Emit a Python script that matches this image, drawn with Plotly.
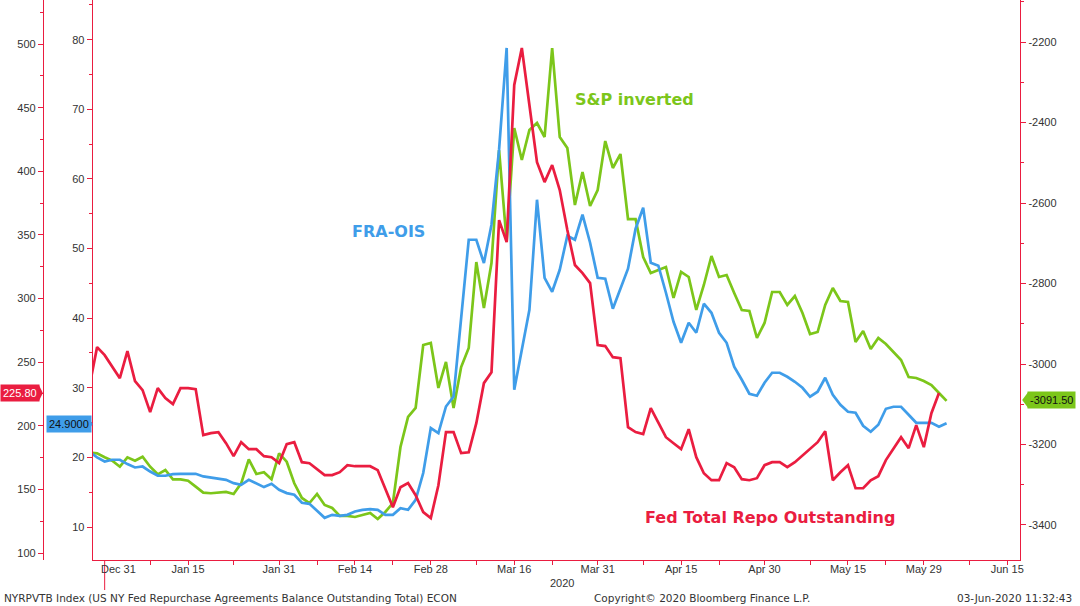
import pandas as pd
import plotly.graph_objects as go

# business days, Dec 27 2019 -> Jun 3 2020
dates = pd.bdate_range("2019-12-27", "2020-06-03")

# Fed Total Repo Outstanding (outer left axis)
repo = [231.1, 261.8, 255.5,
        246.9, 237.4, 258.6, 235.1, 228.0, 210.7, 229.6, 221.7, 217.0, 229.6, 229.6, 228.8,
        192.6, 194.2, 195.0, 186.3, 176.1, 187.1, 181.6, 181.6, 176.1, 175.3, 170.6,
        185.5, 187.1, 171.4, 170.6, 165.9, 161.2, 161.2, 163.5, 169.0, 168.2,
        168.2, 168.2, 165.1, 150.9, 136.0, 151.7, 154.9, 145.4, 132.1, 127.4,
        153.3, 195.0, 195.0, 178.5, 179.2, 202.0, 233.5, 242.1, 361.6, 344.3, 467.8,
        496.9, 450.5, 407.2, 391.5, 404.9, 385.2, 353.8, 326.3, 320.0, 312.1, 263.4,
        262.6, 253.9, 253.1, 198.9, 195.0, 193.4, 213.8, 202.0, 191.0, 186.3, 181.6,
        197.3, 175.3, 162.7, 157.2, 157.2, 170.6, 167.4, 158.0, 157.2, 158.8, 169.0,
        171.4, 171.4, 167.4, 171.4, 176.9, 182.4, 187.1, 195.7, 157.2, 163.5, 169.0,
        150.9, 150.9, 157.2, 160.4, 173.0, 182.4, 191.0, 182.4, 200.5, 183.2,
        209.9, 225.8, None]

# FRA-OIS (inner left axis)
fra_ois = [20.80, 19.99, 19.41,
           19.66, 19.66, 19.04, 18.55, 18.69, 17.97, 17.36, 17.36, 17.60, 17.64, 17.64, 17.64,
           17.26, 17.11, 16.93, 16.78, 16.30, 16.06, 16.78, 16.30, 15.73, 16.21, 15.35,
           14.87, 14.63, 13.48, 13.33, 12.33, 11.32, 11.75, 11.61, 11.75, 12.23,
           12.47, 12.57, 12.47, 11.75, 11.75, 12.71, 12.47, 13.91, 17.75, 24.21,
           23.49, 27.31, 28.75, 39.77, 51.26, 51.26, 47.92, 53.42, 64.20, 78.81, 29.71,
           35.46, 41.21, 57.01, 45.80, 43.79, 46.95, 51.84, 51.26, 54.86, 50.83, 45.80,
           45.66, 41.35, 44.08, 47.10, 52.85, 55.86, 47.96, 47.53, 43.65, 39.48, 36.46,
           39.34, 37.90, 42.07, 40.77, 37.90, 36.46, 33.02, 31.15, 29.14, 28.85, 30.72,
           32.16, 32.16, 31.58, 30.86, 30.00, 28.71, 29.43, 31.44, 29.00, 27.56, 26.55,
           26.41, 24.54, 23.68, 24.69, 26.98, 27.27, 27.27, 26.12, 24.97, 24.97,
           24.97, 24.40, 24.90]

# S&P 500 inverted (right axis)
spx_inv = [-3220.4, -3221.9, -3231.8,
           -3240.3, -3255.2, -3231.8, -3240.3, -3230.3, -3255.2, -3274.1, -3263.4, -3286.5,
           -3286.5, -3289.9, -3304.8, -3319.7, -3321.2, -3319.7, -3318.0, -3323.0, -3296.4,
           -3236.8, -3273.3, -3269.1, -3286.5, -3221.9,
           -3242.8, -3296.4, -3332.9, -3345.4, -3323.0, -3350.3, -3357.8, -3377.6, -3377.6,
           -3380.1, -3375.2, -3370.2, -3385.1, -3367.7, -3345.4, -3206.2, -3131.7, -3109.3,
           -2952.8, -2947.8,
           -3059.6, -2995.0, -3109.3, -3007.5, -2960.2, -2746.6, -2860.9, -2749.1, -2468.3,
           -2696.9, -2413.7, -2493.2, -2418.6, -2401.2, -2436.0, -2214.9, -2436.0, -2463.4,
           -2605.0, -2523.0, -2607.5, -2567.7,
           -2446.0, -2513.0, -2478.3, -2639.8, -2639.8, -2734.2, -2773.9, -2766.5, -2759.0,
           -2836.0, -2771.4, -2783.8, -2865.8, -2803.7, -2731.7, -2783.8, -2778.9, -2823.6,
           -2865.8, -2868.3, -2935.4, -2898.1,
           -2821.1, -2821.1, -2853.4, -2831.1, -2873.3, -2925.5, -2920.5, -2853.4, -2811.2,
           -2843.5, -2846.0, -2945.4, -2918.0, -2962.8, -2935.4, -2950.3, -2970.2, -2990.1,
           -3032.3, -3034.8, -3042.3,
           -3052.2, -3072.0, -3091.5]

# x axis ticks
tick_dates = ["2020-01-15", "2020-01-31", "2020-02-14", "2020-02-28", "2020-03-16", "2020-03-31",
              "2020-04-15", "2020-04-30", "2020-05-15", "2020-05-29", "2020-06-15"]
tick_labels = ["Jan 15", "Jan 31", "Feb 14", "Feb 28", "Mar 16", "Mar 31",
               "Apr 15", "Apr 30", "May 15", "May 29", "Jun 15"]
minor_dates = ["2020-01-08", "2020-01-23", "2020-02-07", "2020-02-21", "2020-03-09", "2020-03-23",
               "2020-04-08", "2020-04-22", "2020-05-08", "2020-05-22", "2020-06-08"]

spx_ticks = [-3400, -3200, -3000, -2800, -2600, -2400, -2200]

RED = "#ea1d40"
BLUE = "#3f9de9"
GREEN = "#7cc61a"
TXT = "#333333"
W, H = 1080, 606

tickfont = dict(family="Liberation Sans", size=11, color=TXT)

fig = go.Figure()
fig.add_trace(go.Scatter(x=dates, y=spx_inv, mode="lines", line=dict(color=GREEN, width=2.7),
                         yaxis="y", name="S&P inverted"))
fig.add_trace(go.Scatter(x=dates, y=fra_ois, mode="lines", line=dict(color=BLUE, width=2.7),
                         yaxis="y2", name="FRA-OIS"))
fig.add_trace(go.Scatter(x=dates, y=repo, mode="lines", line=dict(color=RED, width=2.7),
                         yaxis="y3", name="Fed Total Repo Outstanding"))

fig.update_layout(
    width=W, height=H,
    margin=dict(l=0, r=0, t=0, b=0),
    paper_bgcolor="white", plot_bgcolor="white",
    showlegend=False,
    xaxis=dict(domain=[93 / W, 1024 / W], anchor="y",
               range=["2019-12-27 10:00", "2020-06-16 17:00"],
               rangebreaks=[dict(bounds=["sat", "mon"])],
               tickmode="array", tickvals=tick_dates + minor_dates,
               ticktext=tick_labels + [""] * len(minor_dates),
               ticks="outside", ticklen=4, tickcolor=RED, tickfont=tickfont,
               ticklabelstandoff=-5,
               showline=True, linecolor=RED, linewidth=1, showgrid=False, zeroline=False),
    yaxis=dict(domain=[46 / H, 1], side="right", anchor="x", range=[-3487, -2095.6],
               tickmode="array", tickvals=spx_ticks, ticktext=[str(v) for v in spx_ticks],
               ticks="outside", ticklen=5, tickcolor=RED, tickfont=tickfont,
               minor=dict(ticks="outside", ticklen=3, tickcolor=RED, dtick=100, tick0=0),
               showline=True, linecolor=RED, linewidth=1, showgrid=False, zeroline=False),
    yaxis2=dict(overlaying="y", side="left", anchor="x", range=[5.26, 85.7],
                dtick=10, tick0=0, ticks="outside", ticklen=5, tickcolor=RED, tickfont=tickfont,
                minor=dict(ticks="outside", ticklen=3, tickcolor=RED, dtick=5, tick0=0),
                showline=True, linecolor=RED, linewidth=1, showgrid=False, zeroline=False),
    yaxis3=dict(overlaying="y", side="left", anchor="free", position=43 / W,
                range=[94.5, 534.6], dtick=50, tick0=0,
                ticks="outside", ticklen=5, tickcolor=RED, tickfont=tickfont,
                minor=dict(ticks="outside", ticklen=3, tickcolor=RED, dtick=25, tick0=0),
                showline=True, linecolor=RED, linewidth=1, showgrid=False, zeroline=False),
)


def px(x):
    return x / W


def py(y):
    return (H - y) / H


def note(x, y, text, font, **kw):
    opts = dict(xanchor="center", yanchor="middle")
    opts.update(kw)
    fig.add_annotation(x=px(x), y=py(y), xref="paper", yref="paper", text=text,
                       showarrow=False, font=font, **opts)


# year separator and labels under the date axis
fig.add_shape(type="line", xref="x", yref="paper", x0="2019-12-31", x1="2019-12-31",
              y0=py(560), y1=py(590), line=dict(color=RED, width=1))
note(119, 569, "Dec 31", tickfont)
note(564, 583, "2020", tickfont)

# series labels
lab = dict(family="DejaVu Sans", size=16)
note(637, 99, "<b>S&P inverted</b>", dict(lab, color=GREEN))
note(390, 232, "<b>FRA-OIS</b>", dict(lab, color=BLUE))
note(773, 517, "<b>Fed Total Repo Outstanding</b>", dict(lab, color=RED))

# last value tags
tagfont = dict(family="Liberation Sans", size=11)
note(0, 393, "225.80", dict(tagfont, color="white"), xanchor="left", bgcolor=RED, borderpad=2)
fig.add_shape(type="path", xref="paper", yref="paper",
              path=f"M {px(39)} {py(385)} L {px(43)} {py(393)} L {px(39)} {py(401)} Z",
              fillcolor=RED, line=dict(width=0))
note(46, 424, "24.9000", dict(tagfont, color="#111111"), xanchor="left", bgcolor=BLUE, borderpad=2)
fig.add_shape(type="path", xref="paper", yref="paper",
              path=f"M {px(88)} {py(416)} L {px(93)} {py(424)} L {px(88)} {py(432)} Z",
              fillcolor=BLUE, line=dict(width=0))
note(1031, 400, "-3091.50", dict(tagfont, color="#111111"), xanchor="left", bgcolor=GREEN, borderpad=2)
fig.add_shape(type="path", xref="paper", yref="paper",
              path=f"M {px(1032)} {py(392)} L {px(1026)} {py(400)} L {px(1032)} {py(408)} Z",
              fillcolor=GREEN, line=dict(width=0))

# footer
foot = dict(family="DejaVu Sans", size=10.5, color=TXT)
note(2, 598, "NYRPVTB Index (US NY Fed Repurchase Agreements Balance Outstanding Total) ECON",
     foot, xanchor="left")
note(705, 598, "Copyright© 2020 Bloomberg Finance L.P.", foot)
note(1078, 598, "03-Jun-2020 11:32:43", foot, xanchor="right")

fig.write_html("out.html", config={"displayModeBar": False},
               post_script="document.body.style.margin='0px';")
